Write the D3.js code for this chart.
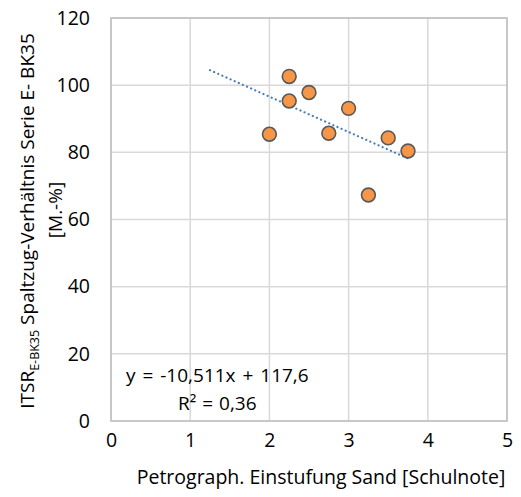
<!DOCTYPE html>
<html>
<head>
<meta charset="utf-8">
<script src="https://cdn.jsdelivr.net/npm/d3@7"></script>
<style>
  body { margin: 0; background: #fff; }
  text { font-family: "Open Sans", sans-serif; fill: #000; }
</style>
</head>
<body>
<svg id="chart" width="521" height="497"></svg>
<script>
// values
const sandGrade = [2.0, 2.25, 2.25, 2.5, 2.75, 3.0, 3.25, 3.5, 3.75];
const itsrValue = [85.4, 102.6, 95.3, 97.8, 85.7, 93.1, 67.3, 84.3, 80.4];
const trendX = [1.25, 3.75];
const slope = -10.511, intercept = 117.6;
const xTicks = [0, 1, 2, 3, 4, 5];
const yTicks = [0, 20, 40, 60, 80, 100, 120];

const svg = d3.select('#chart');
const plotL = 111, plotR = 507, plotT = 18, plotB = 421;

const x = d3.scaleLinear().domain([0, 5]).range([plotL, plotR]);
const y = d3.scaleLinear().domain([0, 120]).range([plotB, plotT]);

// gridlines
svg.append('g')
  .selectAll('line')
  .data(xTicks)
  .enter().append('line')
  .attr('x1', d => x(d)).attr('x2', d => x(d))
  .attr('y1', plotT).attr('y2', plotB)
  .attr('stroke', '#d9d9d9').attr('stroke-width', 1.5);

svg.append('g')
  .selectAll('line')
  .data(yTicks)
  .enter().append('line')
  .attr('x1', plotL).attr('x2', plotR)
  .attr('y1', d => y(d)).attr('y2', d => y(d))
  .attr('stroke', '#d9d9d9').attr('stroke-width', 1.5);

// plot border
svg.append('rect')
  .attr('x', plotL).attr('y', plotT)
  .attr('width', plotR - plotL).attr('height', plotB - plotT)
  .attr('fill', 'none').attr('stroke', '#bfbfbf').attr('stroke-width', 1.5);

// tick labels
const xAxis = svg.append('g')
  .attr('transform', `translate(0,${plotB + 12})`)
  .call(d3.axisBottom(x).tickValues(xTicks).tickFormat(d3.format('d')).tickSize(0).tickPadding(0));
xAxis.select('.domain').remove();
xAxis.selectAll('text')
  .attr('dy', '0.71em')
  .style('font-family', '"Open Sans", sans-serif')
  .style('font-size', '19.5px').attr('fill', '#000');

const yAxis = svg.append('g')
  .attr('transform', `translate(${plotL - 21},0)`)
  .call(d3.axisLeft(y).tickValues(yTicks).tickSize(0).tickPadding(0));
yAxis.select('.domain').remove();
yAxis.selectAll('text')
  .style('font-family', '"Open Sans", sans-serif')
  .style('font-size', '19.5px').attr('fill', '#000');

// trendline
const line = d3.line().x(d => x(d)).y(d => y(slope * d + intercept));
svg.append('path')
  .datum(trendX)
  .attr('d', line)
  .attr('fill', 'none')
  .attr('stroke', '#4a7ebb')
  .attr('stroke-width', 2.2)
  .attr('stroke-linecap', 'round')
  .attr('stroke-dasharray', '0.1 4.4');

// points
svg.append('g')
  .selectAll('circle')
  .data(sandGrade)
  .enter().append('circle')
  .attr('cx', d => x(d))
  .attr('cy', (d, i) => y(itsrValue[i]))
  .attr('r', 6.9)
  .attr('fill', '#f79646')
  .attr('stroke', '#595959')
  .attr('stroke-width', 1.6);

// equation label
svg.append('text')
  .attr('x', 126).attr('y', 382)
  .style('font-size', '19px')
  .style('word-spacing', '2px')
  .text('y = -10,511x + 117,6');
svg.append('text')
  .attr('x', 178).attr('y', 410)
  .style('font-size', '19px')
  .style('word-spacing', '1px')
  .text('R² = 0,36');

// x axis title
svg.append('text')
  .attr('x', 321).attr('y', 484)
  .attr('text-anchor', 'middle')
  .style('font-size', '19.5px')
  .text('Petrograph. Einstufung Sand [Schulnote]');

// y axis title
const yt = svg.append('text')
  .attr('transform', 'translate(34,221) rotate(-90)')
  .attr('text-anchor', 'middle')
  .style('font-size', '19px');
yt.append('tspan').text('ITSR');
yt.append('tspan').attr('dy', 5).style('font-size', '12.5px').text('E-BK35');
yt.append('tspan').attr('dy', -5).text(' Spaltzug-Verhältnis Serie E- BK35');

svg.append('text')
  .attr('transform', 'translate(62,210) rotate(-90)')
  .attr('text-anchor', 'middle')
  .style('font-size', '19px')
  .text('[M.-%]');
</script>
</body>
</html>
